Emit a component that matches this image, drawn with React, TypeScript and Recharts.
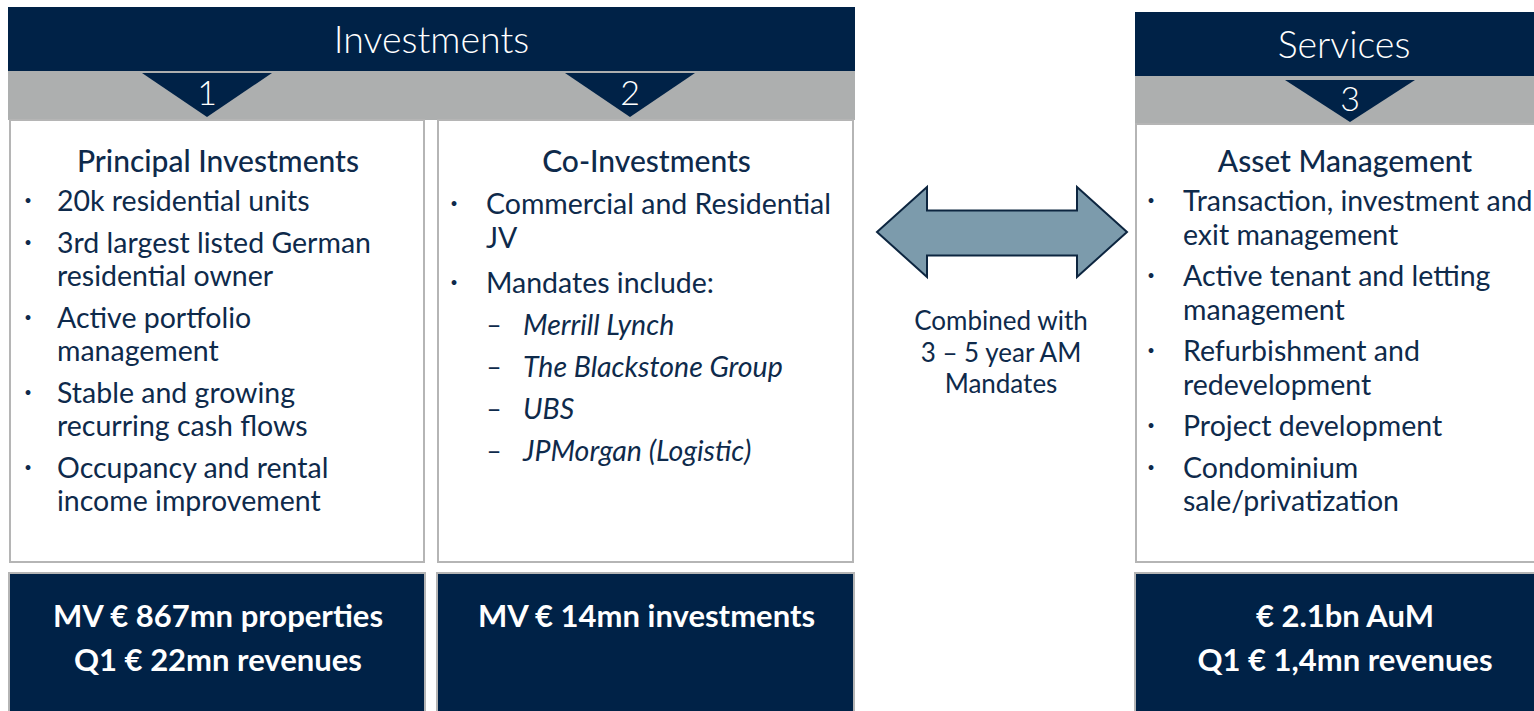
import React from "react";
import { ComposedChart, XAxis, YAxis, ReferenceArea, Scatter } from "recharts";

// ---- content ----
const headerTitles = ["Investments", "Services"];
const stepNumbers = ["1", "2", "3"];
const panelTitles = ["Principal Investments", "Co-Investments", "Asset Management"];

const principalItems = [
  ["20k residential units"],
  ["3rd largest listed German", "residential owner"],
  ["Active portfolio", "management"],
  ["Stable and growing", "recurring cash flows"],
  ["Occupancy and rental", "income improvement"],
];
const coInvestItems = [["Commercial and Residential", "JV"], ["Mandates include:"]];
const mandates = ["Merrill Lynch", "The Blackstone Group", "UBS", "JPMorgan (Logistic)"];
const assetItems = [
  ["Transaction, investment and", "exit management"],
  ["Active tenant and letting", "management"],
  ["Refurbishment and", "redevelopment"],
  ["Project development"],
  ["Condominium", "sale/privatization"],
];
const footerLines = [
  ["MV € 867mn properties", "Q1 € 22mn revenues"],
  ["MV € 14mn investments"],
  ["€ 2.1bn AuM", "Q1 € 1,4mn revenues"],
];
const linkLabel = ["Combined with", "3 – 5 year AM", "Mandates"];

// ---- layout ----
const W = 1534;
const H = 711;
const NAVY = "#002247";
const GREY = "#adafaf";
const BORDER = "#b5b5b5";
const INK = "#0e2a4b";
const ARROW = "#7c9bac";
const FONT = "Lato, 'Open Sans', sans-serif";

// the Services column runs past the right edge of the slide
const headerBoxes = [
  { x1: 8, x2: 855, y1: 7, y2: 71, band: 120 },
  { x1: 1135, x2: 1553, y1: 12, y2: 76, band: 124 },
];
const columns = [
  { x1: 10, x2: 424, top: 120, tri: [142, 272, 73, 117], bullet: 28, text: 57, first: 200, gap: 41.5, items: principalItems },
  { x1: 438, x2: 853, top: 120, tri: [565, 695, 73, 117], bullet: 454, text: 486, first: 203, gap: 45, items: coInvestItems },
  { x1: 1136, x2: 1552, top: 124, tri: [1285, 1415, 80, 122], bullet: 1151, text: 1183, first: 200, gap: 41.5, items: assetItems },
];
const LINE = 33.5;

const styles: Record<string, any> = {
  header: { fontSize: 37.5, fontWeight: 300, fill: "#ffffff", textAnchor: "middle" },
  step: { fontSize: 34, fontWeight: 300, fill: "#ffffff", textAnchor: "middle" },
  title: { fontSize: 30, fontWeight: 500, fill: INK, textAnchor: "middle" },
  body: { fontSize: 28.5, fontWeight: 400, fill: INK, textAnchor: "start" },
  italic: { fontSize: 28.5, fontWeight: 400, fontStyle: "italic", fill: INK, textAnchor: "start" },
  bullet: { fontSize: 13, fontWeight: 400, fill: INK, textAnchor: "middle" },
  dash: { fontSize: 26, fontWeight: 400, fill: INK, textAnchor: "middle" },
  footer: { fontSize: 31, fontWeight: 700, fill: "#ffffff", textAnchor: "middle" },
  link: { fontSize: 26, fontWeight: 400, fill: INK, textAnchor: "middle" },
};

type Label = { x: number; y: number; text: string; kind: string };
const labels: Label[] = [];

headerTitles.forEach((t, i) => {
  const b = headerBoxes[i];
  labels.push({ x: (b.x1 + b.x2) / 2, y: (b.y1 + b.y2) / 2 - 1, text: t, kind: "header" });
});

columns.forEach((c, i) => {
  const [l, r, t, b] = c.tri;
  const mid = (c.x1 + c.x2) / 2;
  labels.push({ x: (l + r) / 2, y: t + (b - t) * 0.42, text: stepNumbers[i], kind: "step" });
  labels.push({ x: mid + 1, y: 160, text: panelTitles[i], kind: "title" });
  let y = c.first;
  c.items.forEach((lines, k) => {
    if (k > 0) y += c.gap;
    labels.push({ x: c.bullet, y, text: "•", kind: "bullet" });
    lines.forEach((ln, j) => {
      if (j > 0) y += LINE;
      labels.push({ x: c.text, y, text: ln, kind: "body" });
    });
  });
  if (i === 1) {
    mandates.forEach((m) => {
      y += 42;
      labels.push({ x: c.bullet + 40, y, text: "–", kind: "dash" });
      labels.push({ x: c.text + 37, y, text: m, kind: "italic" });
    });
  }
  footerLines[i].forEach((ln, j) => {
    labels.push({ x: mid + 1, y: 615 + j * 44, text: ln, kind: "footer" });
  });
});

linkLabel.forEach((ln, j) => {
  labels.push({ x: 1001, y: 320 + j * 31.5, text: ln, kind: "link" });
});

const renderLabel = (p: any) => {
  const s = styles[p.payload.kind];
  return (
    <text x={p.cx} y={p.cy} dominantBaseline="central" fontFamily={FONT} {...s}>
      {p.payload.text}
    </text>
  );
};

const triangle = (p: any) => (
  <polygon
    points={`${p.x},${p.y} ${p.x + p.width},${p.y} ${p.x + p.width / 2},${p.y + p.height}`}
    fill={NAVY}
  />
);

const doubleArrow = (p: any) => {
  const { x, y, width: w, height: h } = p;
  const head = w * 0.2;
  const s1 = y + h * 0.26;
  const s2 = y + h * 0.76;
  const pts = [
    [x, y + h / 2],
    [x + head, y],
    [x + head, s1],
    [x + w - head, s1],
    [x + w - head, y],
    [x + w, y + h / 2],
    [x + w - head, y + h],
    [x + w - head, s2],
    [x + head, s2],
    [x + head, y + h],
  ];
  return <polygon points={pts.map((q) => q.join(",")).join(" ")} fill={ARROW} stroke="#0d2640" strokeWidth={2} />;
};

export default function App() {
  return (
    <div style={{ position: "absolute", left: 0, top: 0, width: W, height: H, background: "#ffffff" }}>
      <ComposedChart width={W} height={H} margin={{ top: 0, right: 0, bottom: 0, left: 0 }}>
        <XAxis type="number" dataKey="x" domain={[0, W]} allowDataOverflow hide />
        <YAxis type="number" dataKey="y" domain={[0, H]} allowDataOverflow reversed hide />

        {headerBoxes.map((b, i) => (
          <ReferenceArea key={`h${i}`} x1={b.x1} x2={b.x2} y1={b.y1} y2={b.y2} fill={NAVY} fillOpacity={1} ifOverflow="visible" />
        ))}
        {headerBoxes.map((b, i) => (
          <ReferenceArea key={`g${i}`} x1={b.x1} x2={b.x2} y1={b.y2} y2={b.band} fill={GREY} fillOpacity={1} ifOverflow="visible" />
        ))}

        {columns.map((c, i) => (
          <ReferenceArea
            key={`p${i}`}
            x1={c.x1}
            x2={c.x2}
            y1={c.top}
            y2={562}
            fill="#ffffff"
            fillOpacity={1}
            stroke={BORDER}
            strokeWidth={2}
            ifOverflow="visible"
          />
        ))}
        {columns.map((c, i) => (
          <ReferenceArea
            key={`f${i}`}
            x1={c.x1 - 1}
            x2={c.x2 + 1}
            y1={573}
            y2={716}
            fill={NAVY}
            fillOpacity={1}
            stroke={BORDER}
            strokeWidth={2}
            ifOverflow="visible"
          />
        ))}
        {columns.map((c, i) => (
          <ReferenceArea
            key={`t${i}`}
            x1={c.tri[0]}
            x2={c.tri[1]}
            y1={c.tri[2]}
            y2={c.tri[3]}
            ifOverflow="visible"
            shape={triangle}
          />
        ))}

        <ReferenceArea x1={877} x2={1127} y1={187} y2={277} ifOverflow="visible" shape={doubleArrow} />

        <Scatter data={labels} shape={renderLabel} isAnimationActive={false} />
      </ComposedChart>
    </div>
  );
}
